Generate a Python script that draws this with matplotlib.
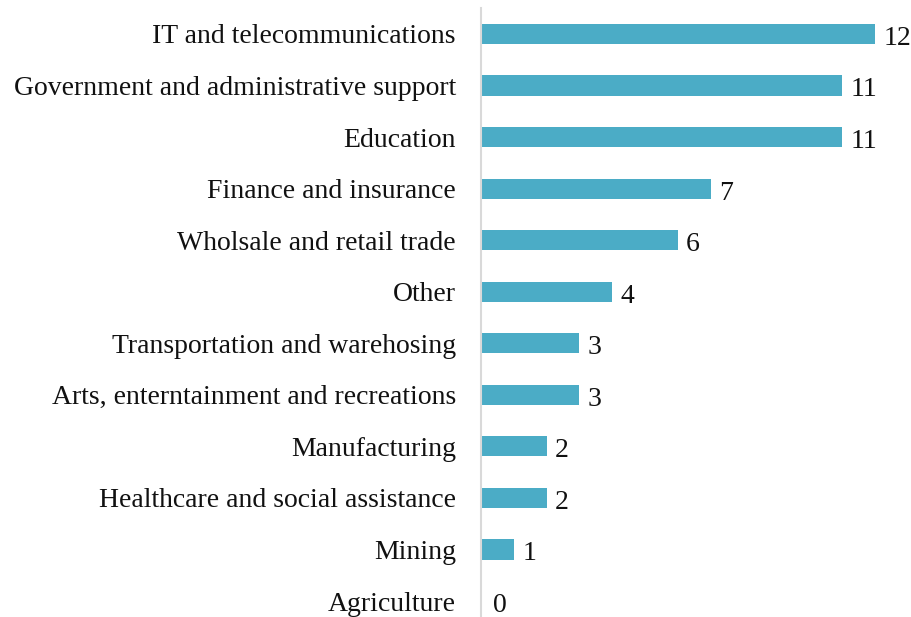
import matplotlib
matplotlib.use("Agg")
import matplotlib.pyplot as plt

# Respondents by industry sector
sectors = [
    "IT and telecommunications",
    "Government and administrative support",
    "Education",
    "Finance and insurance",
    "Wholsale and retail trade",
    "Other",
    "Transportation and warehosing",
    "Arts, enterntainment and recreations",
    "Manufacturing",
    "Healthcare and social assistance",
    "Mining",
    "Agriculture",
]
counts = [12, 11, 11, 7, 6, 4, 3, 3, 2, 2, 1, 0]

plt.rcParams["font.family"] = ["Liberation Serif", "DejaVu Serif"]

fig = plt.figure(figsize=(9.12, 6.17), dpi=100)
ax = fig.add_axes([481 / 912, -0.0159, 426.6 / 912, 618.6 / 617])

y = list(range(len(sectors)))
ax.barh(y, counts, height=0.39, color="#4BACC6")

for yi, v in zip(y, counts):
    ax.annotate(str(v), xy=(v, yi), xytext=(6 if v else 9, -1),
                textcoords="offset points", va="center_baseline", ha="left",
                fontsize=20, color="#111111")

ax.set_yticks(y)
ax.set_yticklabels(sectors, fontsize=20, color="#111111", va="center_baseline")
ax.set_ylim(len(sectors) - 0.5, -0.5)
ax.set_xlim(0, 13)
ax.tick_params(axis="y", length=0, pad=18)
ax.set_xticks([])

for side in ["top", "right", "bottom"]:
    ax.spines[side].set_visible(False)
ax.spines["left"].set_color("#d9d9d9")
ax.spines["left"].set_linewidth(1.5)

fig.savefig("out.png", dpi=100)
